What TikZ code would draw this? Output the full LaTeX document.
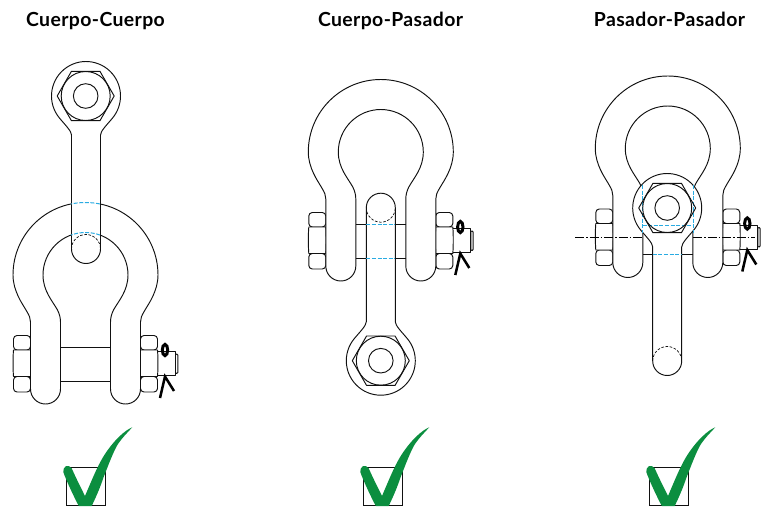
\documentclass[tikz,border=0pt]{standalone}
\usepackage{fontspec}
\setmainfont{Lato}
\definecolor{hidblue}{HTML}{29ABE2}
\definecolor{okgreen}{HTML}{0B8E3F}
\definecolor{inkline}{HTML}{111111}
\tikzset{
  part/.style={draw=inkline,line width=0.95pt,fill=white,line join=round},
  edge/.style={draw=inkline,line width=0.95pt},
  hidden/.style={draw=hidblue,line width=1pt,dash pattern=on 4pt off 1.6pt},
  hiddenblack/.style={draw=inkline,line width=0.7pt,dash pattern=on 2.6pt off 1.6pt},
  cotter/.style={draw=black,line width=2.5pt},
  cotterring/.style={draw=black,line width=3pt},
  axis/.style={draw=black,line width=0.7pt,dash pattern=on 9pt off 2pt on 1.5pt off 2pt},
  title/.style={font=\fontsize{19.4}{22}\selectfont\bfseries\addfontfeature{LetterSpace=2},anchor=base,text=black,inner sep=0pt},
  tick/.style={fill=okgreen,draw=none}
}
\newcommand{\nutstack}[2]{% x left, x right
  \draw[part,rounded corners=3.5pt] (#1,-75) rectangle (#2,-60.5);
  \draw[part,rounded corners=3.5pt] (#1,-117) rectangle (#2,-101.5);
  \draw[part] (#1,-101.5) .. controls (#1-0.6,-95) and (#1-0.6,-81) .. (#1,-75) -- (#2,-75) .. controls (#2+0.6,-81) and (#2+0.6,-95) .. (#2,-101.5) -- cycle;
}
\newcommand{\shackleat}[3]{% cx cy show upper pin line (1/0)
  \begin{scope}[shift={(#1,-#2)}]
    \draw[part,rounded corners=1pt] (90,-79) -- (92.3,-79) -- (92.3,-98.5) -- (90,-98.5) -- cycle;
    \draw[part] (72,-76.7) -- (90,-76.7) -- (90,-100.7) -- (72,-100.7) -- cycle;
    \nutstack{-72}{-55}
    \nutstack{55}{72}
    \draw[part]
      (-25,-47) -- (-25,-114) arc[start angle=0,end angle=-180,radius=15]
      -- (-55,-47) .. controls (-55,-43) and (-56,-41) .. (-59.5,-35)
      .. controls (-63,-29) and (-72.5,-16) .. (-72.5,0)
      arc[start angle=180,end angle=0,radius=72.5]
      .. controls (72.5,-16) and (63,-29) .. (59.5,-35)
      .. controls (56,-41) and (55,-43) .. (55,-47)
      -- (55,-114) arc[start angle=0,end angle=-180,radius=15]
      -- (25,-47) .. controls (25,-43) and (26,-39) .. (28,-35)
      .. controls (33,-26) and (42.5,-16) .. (42.5,0)
      arc[start angle=0,end angle=180,radius=42.5]
      .. controls (-42.5,-16) and (-33,-26) .. (-28,-35)
      .. controls (-26,-39) and (-25,-43) .. (-25,-47) -- cycle;
    \ifnum#3=1 \draw[edge] (-25,-72) -- (25,-72); \fi
    \draw[edge] (-25,-106) -- (25,-106);
    \draw[cotterring] (79.5,-75) ellipse [x radius=2.7,y radius=5.6];
    \draw[cotter] (74.5,-123) -- (79.5,-101.5) -- (88.5,-116);
  \end{scope}
}
\newcommand{\linkat}[3]{% cx cy sign
  \begin{scope}[shift={(#1,-#2)},yscale=#3]
    \draw[part]
      (-14.5,-153) -- (-14.5,-39) .. controls (-14.5,-35) and (-21.3,-28.4) .. (220:34.5)
      arc[start angle=220,end angle=-40,radius=34.5]
      .. controls (21.3,-28.4) and (14.5,-35) .. (14.5,-39) -- (14.5,-153)
      arc[start angle=0,end angle=-180,radius=14.5] -- cycle;
    \draw[hiddenblack] (-14.5,-153) arc[start angle=180,end angle=0,radius=14.5];
  \end{scope}
}
\newcommand{\linkhex}[2]{%
  \begin{scope}[shift={(#1,-#2)}]
    \draw[edge,line join=round] (28.5,0) -- (14.25,24.7) -- (-14.25,24.7) -- (-28.5,0) -- (-14.25,-24.7) -- (14.25,-24.7) -- cycle;
    \draw[edge] (0,0) circle [radius=24.5];
    \draw[edge] (0,0) circle [radius=12.3];
  \end{scope}
}
\newcommand{\tickat}[1]{%
  \begin{scope}[xshift=#1pt]
    \draw[draw=inkline,line width=0.95pt] (66,-467.7) rectangle (105,-505.6);
    \fill[tick] (132.3,-427.3) .. controls (125,-430) and (113,-441) .. (103.3,-456.7)
      .. controls (97,-467) and (91,-482) .. (85,-496)
      .. controls (81,-488) and (76,-478) .. (71.7,-468.3)
      .. controls (70,-466) and (68,-465.5) .. (66,-466)
      .. controls (64,-467) and (63,-470) .. (63.3,-472)
      .. controls (66,-480) and (74,-497) .. (78.8,-506)
      -- (91.7,-506)
      .. controls (96,-497) and (100,-488) .. (103.3,-478)
      .. controls (108,-466) and (114,-450) .. (118,-444)
      .. controls (122,-438) and (127,-433) .. (132.3,-427.3) -- cycle;
  \end{scope}
}
\begin{document}
\begin{tikzpicture}[x=1pt,y=1pt]
\useasboundingbox (0,0) rectangle (763,-506);
\fill[white] (0,0) rectangle (763,-506);
\node[title] (t1) at (95.5,-26.5) {Cuerpo-Cuerpo};
\node[title] (t2) at (390.5,-26.5) {Cuerpo-Pasador};
\node[title] (t3) at (669.5,-26.5) {Pasador-Pasador};
% figure 1
\shackleat{85.5}{275}{1}
\linkat{86}{96}{1}
\linkhex{85.7}{96}
\begin{scope}[shift={(85.5,-275)}]
  \draw[hidden] (78.5:72.5) arc[start angle=78.5,end angle=101.5,radius=72.5];
  \draw[hidden] (70:42.5) arc[start angle=70,end angle=110,radius=42.5];
\end{scope}
% figure 2
\shackleat{380.8}{152}{1}
\linkat{380.8}{360.7}{-1}
\linkhex{380.8}{360.7}
\draw[hidden] (366.3,-224) -- (395.3,-224);
\draw[hidden] (366.3,-258) -- (395.3,-258);
% figure 3
\shackleat{667.8}{148.5}{0}
\draw[axis] (575,-237.3) -- (642,-237.3);
\draw[axis] (693,-237.3) -- (755,-237.3);
\linkat{667.2}{208}{1}
\draw[hidden] (642.5,-185) -- (642.5,-233);
\draw[hidden] (693,-185) -- (693,-233);
\draw[hidden] (642.5,-225) -- (693,-225);
\draw[hidden] (652.7,-254.5) -- (681.7,-254.5);
\linkhex{667.2}{208}
% ticks
\tickat{0}
\tickat{297}
\tickat{583}
\end{tikzpicture}
\end{document}
